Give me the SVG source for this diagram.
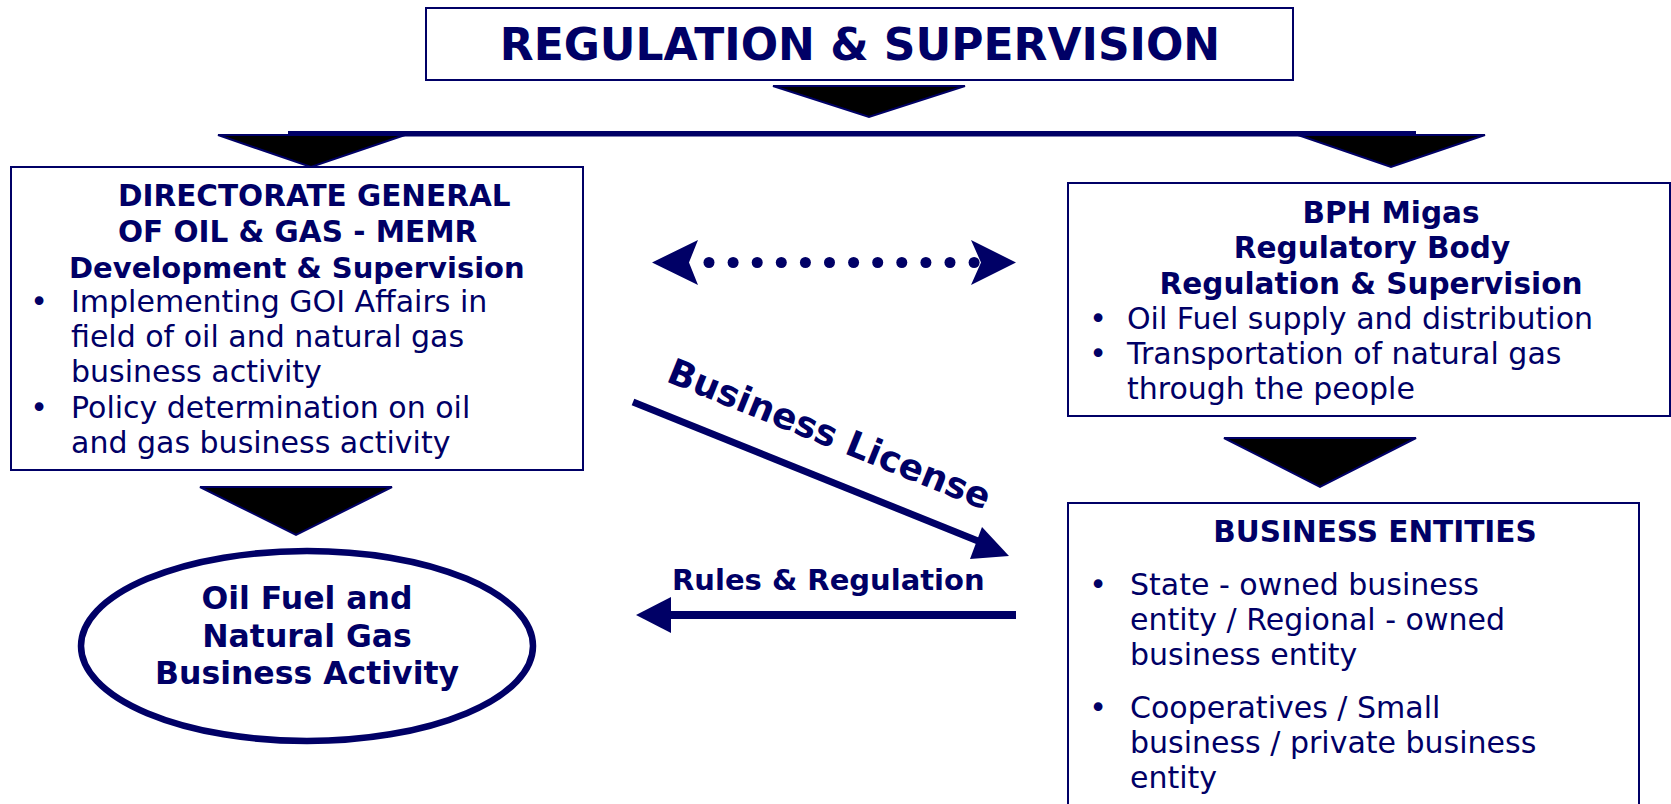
<svg xmlns="http://www.w3.org/2000/svg" width="1671" height="804" viewBox="0 0 1671 804">
<style>
.box{fill:#fff;stroke:#000066;stroke-width:2}
.tri{fill:#000;stroke:#000066;stroke-width:2}
.b{font-family:"DejaVu Sans",Verdana,sans-serif;font-weight:bold;fill:#000066}
.r{font-family:"DejaVu Sans",Verdana,sans-serif;fill:#000066;font-size:30px}
.line{stroke:#000066;fill:none}
.head{fill:#000066}
</style>
<rect width="1671" height="804" fill="#fff"/>
<g id="title">
<rect class="box" x="426" y="8" width="867" height="72"/>
<text class="b" x="860" y="60" font-size="44" text-anchor="middle">REGULATION &amp; SUPERVISION</text>
</g>
<g id="connectors">
<polygon class="tri" points="773,86 965,86 869,117"/>
<rect x="288" y="131" width="1128" height="5.5" fill="#000066"/>
<polygon class="tri" points="218,135 405,135 311,167"/>
<polygon class="tri" points="1298,135 1485,135 1391,167"/>
<polygon class="tri" points="200,487 392,487 296,535"/>
<polygon class="tri" points="1224,438 1416,438 1320,487"/>
<g id="dotted-double-arrow">
<polygon class="head" points="652,262.5 698,240 689,262.5 698,285"/>
<polygon class="head" points="1016,262.5 971,240 981,262.5 971,285"/>
<g fill="#000066">
<circle cx="709" cy="262.5" r="5.5"/><circle cx="733.1" cy="262.5" r="5.5"/><circle cx="757.2" cy="262.5" r="5.5"/><circle cx="781.3" cy="262.5" r="5.5"/><circle cx="805.4" cy="262.5" r="5.5"/><circle cx="829.5" cy="262.5" r="5.5"/><circle cx="853.6" cy="262.5" r="5.5"/><circle cx="877.7" cy="262.5" r="5.5"/><circle cx="901.8" cy="262.5" r="5.5"/><circle cx="925.9" cy="262.5" r="5.5"/><circle cx="950" cy="262.5" r="5.5"/><circle cx="974.1" cy="262.5" r="5.5"/>
</g>
</g>
<g id="business-license">
<line class="line" x1="633" y1="402" x2="978" y2="541" stroke-width="7"/>
<polygon class="head" points="1009,556 970,559 982,527"/>
<text class="b" font-size="36" transform="translate(665,381) rotate(22)">Business License</text>
</g>
<g id="rules-regulation">
<line class="line" x1="1016" y1="615" x2="668" y2="615" stroke-width="8"/>
<polygon class="head" points="636,615 671,597 671,633"/>
<text class="b" x="672" y="590" font-size="29">Rules &amp; Regulation</text>
</g>
</g>
<g id="dgog">
<rect class="box" x="11" y="167" width="572" height="303"/>
<text class="b" font-size="29.5" x="118" y="206">DIRECTORATE GENERAL</text>
<text class="b" font-size="29.5" x="118" y="242">OF OIL &amp; GAS - MEMR</text>
<text class="b" font-size="29" x="69" y="278">Development &amp; Supervision</text>
<text class="r" x="39" y="312" text-anchor="middle">•</text>
<text class="r" x="71" y="312">Implementing GOI Affairs in</text>
<text class="r" x="71" y="347">field of oil and natural gas</text>
<text class="r" x="71" y="382">business activity</text>
<text class="r" x="39" y="418" text-anchor="middle">•</text>
<text class="r" x="71" y="418">Policy determination on oil</text>
<text class="r" x="71" y="453">and gas business activity</text>
</g>
<g id="bph">
<rect class="box" x="1068" y="183" width="602" height="233"/>
<text class="b" font-size="29.5" x="1391" y="223" text-anchor="middle">BPH Migas</text>
<text class="b" font-size="29.5" x="1372" y="258" text-anchor="middle">Regulatory Body</text>
<text class="b" font-size="29.5" x="1371" y="294" text-anchor="middle">Regulation &amp; Supervision</text>
<text class="r" x="1098" y="329" text-anchor="middle">•</text>
<text class="r" x="1127" y="329" font-size="29.6">Oil Fuel supply and distribution</text>
<text class="r" x="1098" y="364" text-anchor="middle">•</text>
<text class="r" x="1127" y="364">Transportation of natural gas</text>
<text class="r" x="1127" y="399">through the people</text>
</g>
<g id="entities">
<rect class="box" x="1068" y="503" width="571" height="320"/>
<text class="b" font-size="29.5" x="1375" y="542" text-anchor="middle">BUSINESS ENTITIES</text>
<text class="r" x="1098" y="595" text-anchor="middle">•</text>
<text class="r" x="1130" y="595">State - owned business</text>
<text class="r" x="1130" y="630">entity / Regional - owned</text>
<text class="r" x="1130" y="665">business entity</text>
<text class="r" x="1098" y="718" text-anchor="middle">•</text>
<text class="r" x="1130" y="718">Cooperatives / Small</text>
<text class="r" x="1130" y="753">business / private business</text>
<text class="r" x="1130" y="788">entity</text>
</g>
<g id="activity">
<ellipse cx="307" cy="646" rx="226" ry="95" fill="#fff" stroke="#000066" stroke-width="6.5"/>
<text class="b" font-size="31.5" x="307" y="609" text-anchor="middle">Oil Fuel and</text>
<text class="b" font-size="31.5" x="307" y="647" text-anchor="middle">Natural Gas</text>
<text class="b" font-size="31.5" x="307" y="684" text-anchor="middle">Business Activity</text>
</g>
</svg>
